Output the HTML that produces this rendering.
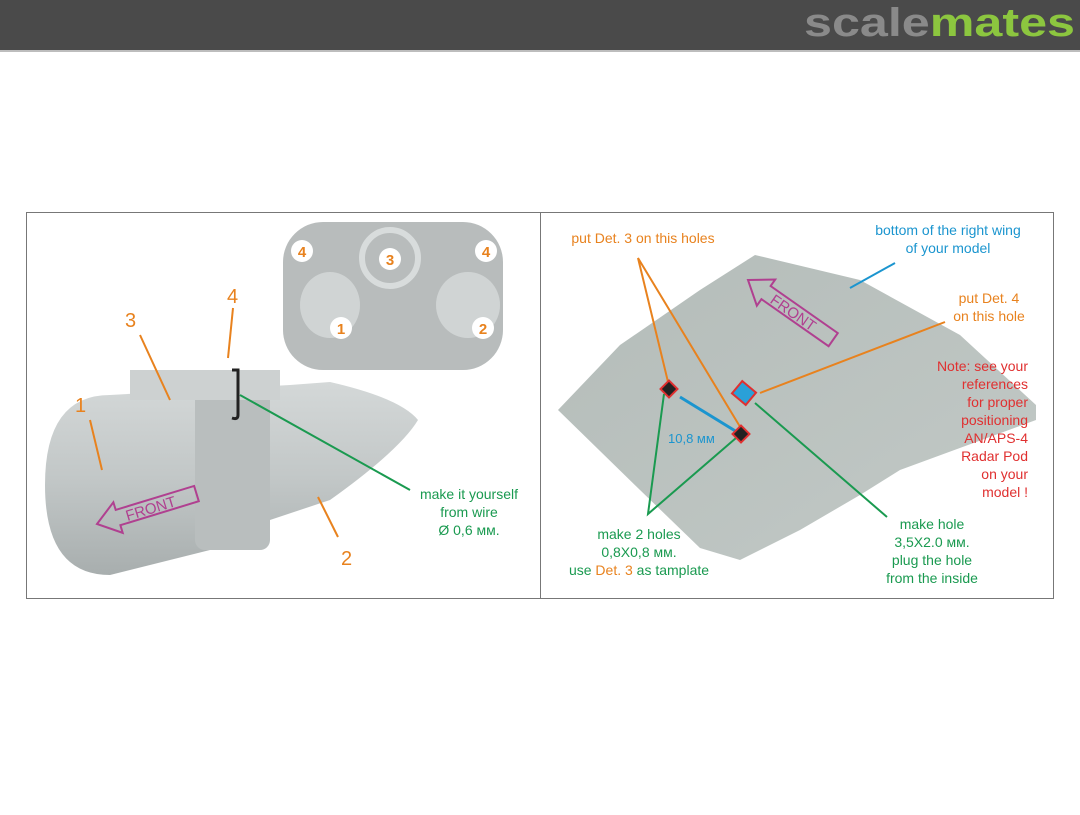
<!DOCTYPE html>
<html><head><meta charset="utf-8"><style>
body{margin:0;width:1080px;height:810px;background:#fff;overflow:hidden;font-family:"Liberation Sans",sans-serif}
</style></head><body>
<svg width="1080" height="810" viewBox="0 0 1080 810" xmlns="http://www.w3.org/2000/svg" font-family="Liberation Sans, sans-serif">
<defs>
<linearGradient id="pod" x1="0" y1="0" x2="0" y2="1"><stop offset="0" stop-color="#d4d8d8"/><stop offset="0.5" stop-color="#c2c7c7"/><stop offset="1" stop-color="#a8aeae"/></linearGradient>
<linearGradient id="wing" x1="0" y1="0" x2="1" y2="1"><stop offset="0" stop-color="#b4bcb9"/><stop offset="1" stop-color="#c2c9c6"/></linearGradient>
</defs>
<rect x="0" y="0" width="1080" height="50" fill="#4a4a4a"/>
<rect x="0" y="50" width="1080" height="2" fill="#bdbdbd"/>
<text x="804" y="36" font-size="40" font-weight="bold" fill="#8a8a8a" textLength="271" lengthAdjust="spacingAndGlyphs">scale<tspan fill="#8cc63f">mates</tspan></text>
<rect x="26.5" y="212.5" width="1027" height="386" fill="#fff" stroke="#777"/>
<line x1="540.5" y1="212" x2="540.5" y2="598" stroke="#777"/>
<!-- top detail sprue -->
<rect x="283" y="222" width="220" height="148" rx="40" fill="#b8bcbc"/>
<circle cx="390" cy="258" r="28" fill="none" stroke="#d8dcdc" stroke-width="6"/>
<ellipse cx="330" cy="305" rx="30" ry="33" fill="#d0d4d4"/>
<ellipse cx="468" cy="305" rx="32" ry="33" fill="#d0d4d4"/>
<circle cx="302" cy="251" r="11" fill="#fff"/><text x="302" y="257" font-size="15" font-weight="bold" fill="#e8821e" text-anchor="middle">4</text>
<circle cx="486" cy="251" r="11" fill="#fff"/><text x="486" y="257" font-size="15" font-weight="bold" fill="#e8821e" text-anchor="middle">4</text>
<circle cx="390" cy="259" r="11" fill="#fff"/><text x="390" y="265" font-size="15" font-weight="bold" fill="#e8821e" text-anchor="middle">3</text>
<circle cx="341" cy="328" r="11" fill="#fff"/><text x="341" y="334" font-size="15" font-weight="bold" fill="#e8821e" text-anchor="middle">1</text>
<circle cx="483" cy="328" r="11" fill="#fff"/><text x="483" y="334" font-size="15" font-weight="bold" fill="#e8821e" text-anchor="middle">2</text>
<!-- pod -->
<path d="M110 395 L200 390 L290 385 L330 382 Q400 398 418 420 Q400 450 330 500 L270 520 L230 545 L110 575 Q45 575 45 485 Q45 395 110 395Z" fill="url(#pod)"/>
<rect x="195" y="385" width="75" height="165" rx="10" fill="#b9bebe"/>
<rect x="130" y="370" width="150" height="30" fill="#cdd1d1"/>
<path d="M232 370 L238 370 L238 415 Q238 420 232 418" stroke="#222" stroke-width="3" fill="none"/>
<g transform="translate(97 524) rotate(-17)">
<path d="M0 0 L22 -16 L22 -8 L104 -8 L104 8 L22 8 L22 16Z" fill="none" stroke="#b04090" stroke-width="2"/>
<text x="30" y="6" font-size="15" fill="#b04090">FRONT</text></g>
<!-- left labels -->
<g stroke="#e8821e" stroke-width="2"><line x1="90" y1="420" x2="102" y2="470"/><line x1="140" y1="335" x2="170" y2="400"/><line x1="233" y1="308" x2="228" y2="358"/><line x1="318" y1="497" x2="338" y2="537"/></g>
<line x1="240" y1="395" x2="410" y2="490" stroke="#1a9a50" stroke-width="2"/>
<g fill="#e8821e" font-size="20"><text x="75" y="412">1</text><text x="125" y="327">3</text><text x="227" y="303">4</text><text x="341" y="565">2</text></g>
<g fill="#1a9a50" font-size="14" text-anchor="middle"><text x="469" y="499">make it yourself</text><text x="469" y="517">from wire</text><text x="469" y="535">Ø 0,6 мм.</text></g>
<!-- wing -->
<path d="M558 410 L620 345 L700 290 L755 255 L860 280 L960 335 L1036 405 L1036 420 L900 470 L860 495 L800 530 L740 560 L700 548 L640 490Z" fill="url(#wing)"/>
<g transform="translate(748 280) rotate(35)">
<path d="M0 0 L22 -16 L22 -8 L104 -8 L104 8 L22 8 L22 16Z" fill="none" stroke="#b04090" stroke-width="2"/>
<text x="30" y="6" font-size="15" fill="#b04090">FRONT</text></g>
<g stroke="#e8821e" stroke-width="2" fill="none"><polyline points="669,386 638,258 742,430"/><line x1="760" y1="393" x2="945" y2="322"/></g>
<g stroke="#1a9a50" stroke-width="2" fill="none"><polyline points="664,394 648,514 736,438"/><line x1="755" y1="403" x2="887" y2="517"/></g>
<line x1="680" y1="397" x2="737" y2="432" stroke="#1b95cf" stroke-width="3"/>
<line x1="850" y1="288" x2="895" y2="263" stroke="#1b95cf" stroke-width="2"/>
<rect x="663" y="383" width="12" height="12" fill="#222" stroke="#e03030" stroke-width="2" transform="rotate(45 669 389)"/>
<rect x="735" y="428" width="12" height="12" fill="#222" stroke="#e03030" stroke-width="2" transform="rotate(45 741 434)"/>
<rect x="735" y="385" width="18" height="16" fill="#2aa0d8" stroke="#e03030" stroke-width="2" transform="rotate(40 744 393)"/>
<text x="668" y="443" font-size="13" fill="#1b95cf">10,8 мм</text>
<text x="643" y="243" font-size="14" fill="#e8821e" text-anchor="middle">put Det. 3 on this holes</text>
<g fill="#1b95cf" font-size="14" text-anchor="middle"><text x="948" y="235">bottom of the right wing</text><text x="948" y="253">of your model</text></g>
<g fill="#e8821e" font-size="14" text-anchor="middle"><text x="989" y="303">put Det. 4</text><text x="989" y="321">on this hole</text></g>
<g fill="#e03030" font-size="14" text-anchor="end"><text x="1028" y="371">Note: see your</text><text x="1028" y="389">references</text><text x="1028" y="407">for proper</text><text x="1028" y="425">positioning</text><text x="1028" y="443">AN/APS-4</text><text x="1028" y="461">Radar Pod</text><text x="1028" y="479">on your</text><text x="1028" y="497">model !</text></g>
<g fill="#1a9a50" font-size="14" text-anchor="middle"><text x="639" y="539">make 2 holes</text><text x="639" y="557">0,8X0,8 мм.</text><text x="639" y="575">use <tspan fill="#e8821e">Det. 3</tspan> as tamplate</text>
<text x="932" y="529">make hole</text><text x="932" y="547">3,5X2.0 мм.</text><text x="932" y="565">plug the hole</text><text x="932" y="583">from the inside</text></g>
</svg>
</body></html>
